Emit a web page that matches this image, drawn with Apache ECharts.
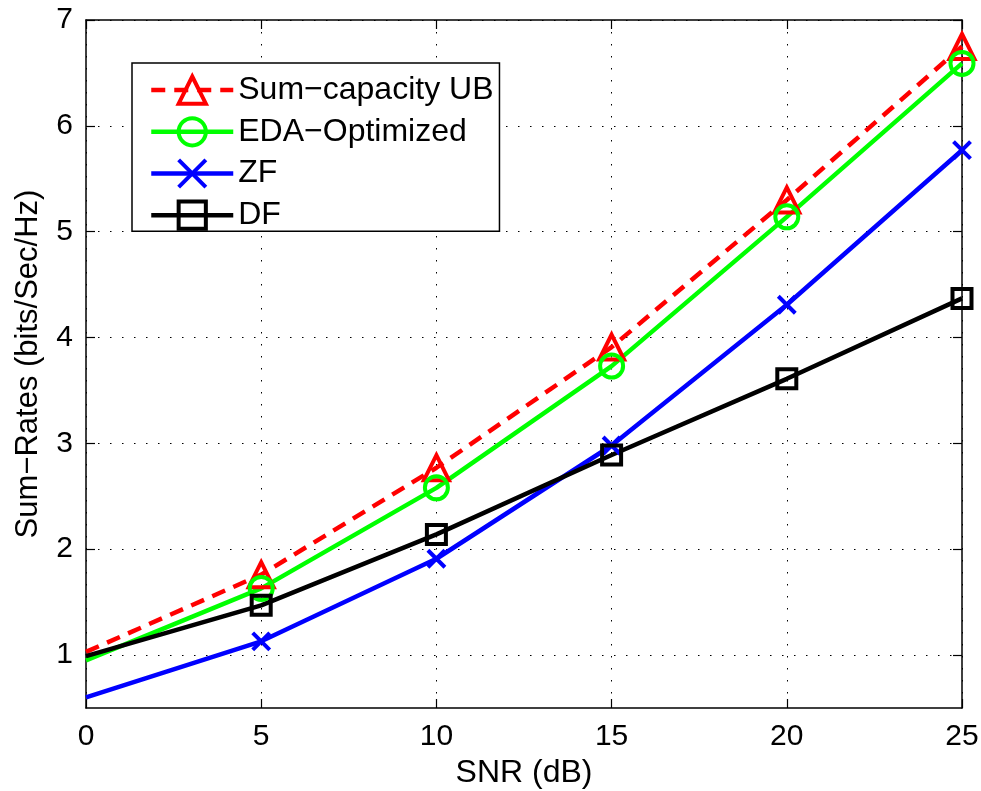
<!DOCTYPE html>
<html>
<head>
<meta charset="utf-8">
<script src="https://cdn.jsdelivr.net/npm/echarts@6/dist/echarts.min.js"></script>
<style>
html,body{margin:0;padding:0;background:#fff;}
#chart{width:981px;height:791px;}
</style>
</head>
<body>
<div id="chart"></div>
<script>
const snr = [0, 5, 10, 15, 20, 25];
const ubValues = [1.03, 1.76, 2.77, 3.91, 5.30, 6.75];
const edaValues = [0.95, 1.63, 2.58, 3.73, 5.14, 6.59];
const zfValues = [0.60, 1.13, 1.91, 2.98, 4.31, 5.77];
const dfValues = [0.99, 1.47, 2.14, 2.89, 3.61, 4.37];
const xTicks = [0, 5, 10, 15, 20, 25];
const yTicks = [1, 2, 3, 4, 5, 6, 7];
const seriesNames = ['Sum\u2212capacity UB', 'EDA\u2212Optimized', 'ZF', 'DF'];

const FONT = 'Liberation Sans, Arial, Helvetica, sans-serif';
// the reference shows no marker at SNR = 0 dB
const pairs = v => snr.map((x, i) => i === 0 ? { value: [x, v[i]], symbol: 'none' } : [x, v[i]]);

const gridStyle = { show: true, lineStyle: { color: '#000', width: 1, type: [1.5, 10.5] } };

function mkSeries(name, vals, color, dashed, symbol, size) {
  return {
    name: name, type: 'line', data: pairs(vals),
    xAxisIndex: 0, yAxisIndex: 0,
    symbol: symbol, symbolSize: size, showSymbol: true,
    lineStyle: { color: color, width: 4.5, type: dashed ? [14, 9] : 'solid' },
    itemStyle: { color: 'none', borderColor: color, borderWidth: 4 },
    emphasis: { disabled: true },
    animation: false
  };
}

const chart = echarts.init(document.getElementById('chart'), null, { renderer: 'canvas' });
chart.setOption({
  backgroundColor: '#fff',
  animation: false,
  grid: { left: 86, right: 19, top: 20, bottom: 83, containLabel: false, outerBoundsMode: 'none' },
  legend: {
    show: true, orient: 'vertical', left: 132, top: 63,
    data: seriesNames,
    itemWidth: 82, itemHeight: 34, itemGap: 9.5,
    padding: [11, 6, 0, 17],
    backgroundColor: '#fff', borderColor: '#000', borderWidth: 1.5,
    selectedMode: false,
    lineStyle: { width: 4.5 },
    itemStyle: { borderWidth: 4 },
    textStyle: { fontFamily: FONT, fontSize: 32, lineHeight: 26, color: '#000', padding: [0, 0, 0, 0] }
  },
  xAxis: [{
    type: 'value', min: 0, max: 25, interval: 5, position: 'bottom',
    name: 'SNR (dB)', nameLocation: 'middle', nameGap: 48,
    nameTextStyle: { fontFamily: FONT, fontSize: 32, color: '#000' },
    axisLine: { show: true, onZero: false, lineStyle: { color: '#000', width: 1.5 } },
    axisTick: { show: true, inside: true, length: 9, lineStyle: { color: '#000', width: 1.2 } },
    axisLabel: { show: true, fontFamily: FONT, fontSize: 30, color: '#000', margin: 14, showMinLabel: true, showMaxLabel: true },
    splitLine: gridStyle
  }, {
    type: 'value', min: 0, max: 25, interval: 5, position: 'top',
    axisLine: { show: true, onZero: false, lineStyle: { color: '#000', width: 1.5 } },
    axisTick: { show: true, inside: true, length: 9, lineStyle: { color: '#000', width: 1.2 } },
    axisLabel: { show: false }, splitLine: { show: false }
  }],
  yAxis: [{
    type: 'value', min: 0.5, max: 7, position: 'left',
    name: 'Sum\u2212Rates (bits/Sec/Hz)', nameLocation: 'middle', nameGap: 42,
    nameTextStyle: { fontFamily: FONT, fontSize: 31, color: '#000' },
    axisLine: { show: true, onZero: false, lineStyle: { color: '#000', width: 1.5 } },
    axisTick: { show: true, inside: true, length: 9, customValues: yTicks, lineStyle: { color: '#000', width: 1.2 } },
    axisLabel: { show: true, fontFamily: FONT, fontSize: 30, color: '#000', margin: 13, customValues: yTicks, showMinLabel: true, showMaxLabel: true },
    splitLine: gridStyle
  }, {
    type: 'value', min: 0.5, max: 7, position: 'right',
    axisLine: { show: true, onZero: false, lineStyle: { color: '#000', width: 1.5 } },
    axisTick: { show: true, inside: true, length: 9, customValues: yTicks, lineStyle: { color: '#000', width: 1.2 } },
    axisLabel: { show: false, customValues: yTicks }, splitLine: { show: false }
  }],
  series: [
    mkSeries(seriesNames[0], ubValues, '#ff0000', true, 'triangle', 25),
    mkSeries(seriesNames[1], edaValues, '#00ff00', false, 'circle', 23),
    mkSeries(seriesNames[2], zfValues, '#0000ff', false, 'path://M0,0L20,20M20,0L0,20', 17),
    mkSeries(seriesNames[3], dfValues, '#000000', false, 'rect', 19)
  ]
});
</script>
</body>
</html>
